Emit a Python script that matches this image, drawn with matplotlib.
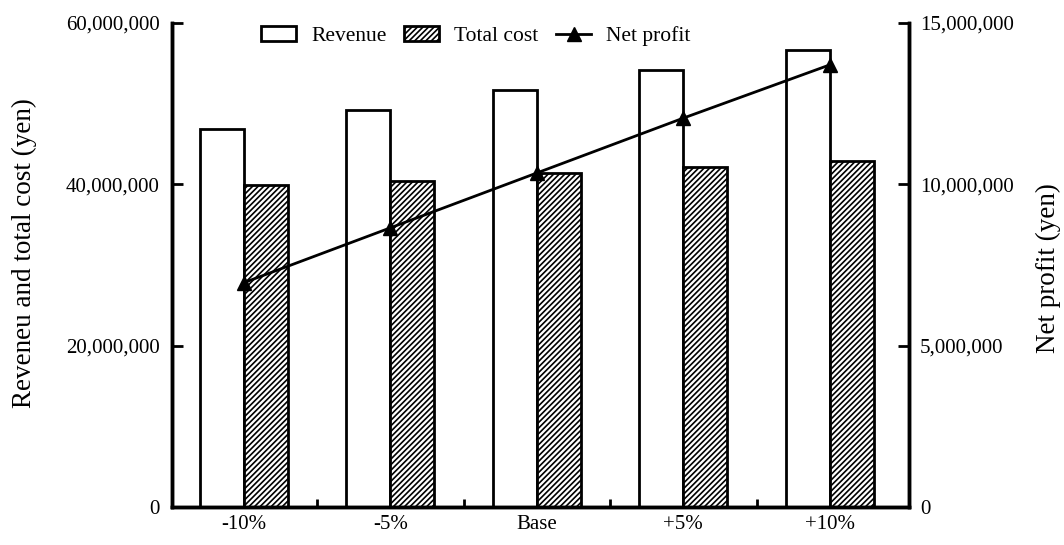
import matplotlib.pyplot as plt
import numpy as np
from matplotlib.ticker import FuncFormatter, FixedLocator

plt.rcParams['font.family'] = ['Liberation Serif', 'DejaVu Serif']
plt.rcParams['font.size'] = 15
plt.rcParams['hatch.linewidth'] = 1.2

# scenarios and results (yen)
scenarios = ['-10%', '-5%', 'Base', '+5%', '+10%']
revenue = [46.8e6, 49.2e6, 51.7e6, 54.2e6, 56.6e6]
total_cost = [39.9e6, 40.4e6, 41.4e6, 42.1e6, 42.9e6]
net_profit = [6.95e6, 8.65e6, 10.35e6, 12.05e6, 13.7e6]

x = np.arange(len(scenarios))
w = 0.3

fig = plt.figure(figsize=(10.64, 5.45), dpi=100)
ax = fig.add_axes([0.1617, 0.0697, 0.6926, 0.8883])
ax2 = ax.twinx()

b1 = ax.bar(x - w / 2, revenue, w, color='white', edgecolor='black', linewidth=2, label='Revenue')
b2 = ax.bar(x + w / 2, total_cost, w, color='white', edgecolor='black', linewidth=2,
            hatch='//////', label='Total cost')
l1, = ax2.plot(x, net_profit, color='black', lw=2, marker='^', markersize=10, label='Net profit')

ax.set_xlim(-0.49, 4.54)
ax.set_ylim(0, 60e6)
ax2.set_ylim(0, 15e6)

fmt = FuncFormatter(lambda v, p: f'{v:,.0f}')
ax.set_yticks([0, 20e6, 40e6, 60e6])
ax.yaxis.set_major_formatter(fmt)
ax2.set_yticks([0, 5e6, 10e6, 15e6])
ax2.yaxis.set_major_formatter(fmt)

ax.set_xticks(x)
ax.set_xticklabels(scenarios)
ax.xaxis.set_minor_locator(FixedLocator(x[:-1] + 0.5))
ax.tick_params(axis='x', which='major', length=0, pad=6)
ax.tick_params(axis='x', which='minor', direction='in', length=6, width=2)
ax.tick_params(axis='y', direction='in', length=8, width=2, pad=9)
ax2.tick_params(axis='y', direction='in', length=8, width=2, pad=8)

for a in (ax, ax2):
    a.spines['top'].set_visible(False)
    for s in ('left', 'right', 'bottom'):
        a.spines[s].set_linewidth(2.5)

ax.set_ylabel('Reveneu and total cost (yen)', fontsize=19.5)
ax.yaxis.set_label_coords(-0.183, 0.525)
ax2.set_ylabel('Net profit (yen)', fontsize=19.5, rotation=90)
ax2.yaxis.set_label_coords(1.172, 0.494)

fig.legend(handles=[b1, b2, l1], loc='center', bbox_to_anchor=(0.447, 0.934),
           ncol=3, frameon=False, handlelength=1.65, handleheight=0.65,
           columnspacing=0.8, handletextpad=0.7, fontsize=15.5)

fig.savefig('out.png', dpi=100)
